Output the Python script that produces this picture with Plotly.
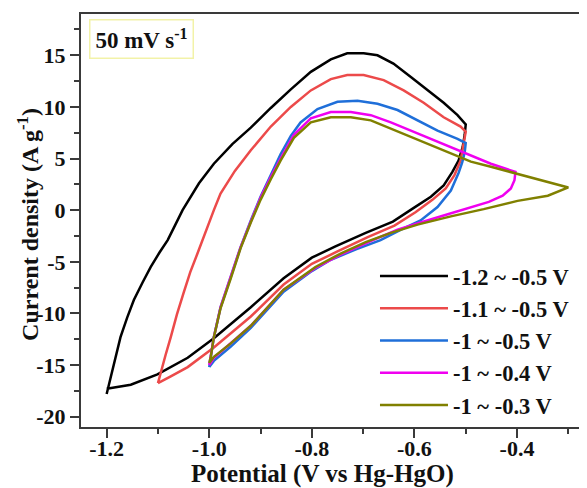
import plotly.graph_objects as go

# ---- data (potential V vs Hg-HgO, current density A/g) ----
series_names = ["-1.2 ~ -0.5 V", "-1.1 ~ -0.5 V", "-1 ~ -0.5 V", "-1 ~ -0.4 V", "-1 ~ -0.3 V"]
series_colors = ["#000000", "#ec4a4a", "#1f6fd9", "#f000f0", "#808000"]

black_v = [-1.200, -1.192, -1.183, -1.173, -1.160, -1.147, -1.130, -1.114, -1.097, -1.081, -1.066, -1.052,
           -1.020, -0.991, -0.955, -0.919, -0.880, -0.841, -0.802, -0.763, -0.731, -0.699, -0.672, -0.641,
           -0.607, -0.574, -0.543, -0.516, -0.500,
           -0.502, -0.506, -0.514, -0.526, -0.543, -0.568, -0.602, -0.642, -0.695, -0.754, -0.800, -0.855,
           -0.919, -0.991, -1.042, -1.101, -1.153, -1.196, -1.200]
black_j = [-17.8, -16.2, -14.1, -12.3, -10.4, -8.7, -7.0, -5.5, -4.1, -2.9, -1.4, 0.0,
           2.6, 4.5, 6.4, 8.0, 9.9, 11.7, 13.4, 14.6, 15.2, 15.2, 15.0, 14.2,
           12.9, 11.6, 10.4, 9.2, 8.3,
           7.3, 6.1, 4.8, 3.7, 2.4, 1.3, 0.2, -1.1, -2.2, -3.5, -4.6, -6.6,
           -9.4, -12.4, -14.3, -15.9, -16.9, -17.2, -17.3]

red_v = [-1.100, -1.095, -1.085, -1.075, -1.063, -1.050, -1.037, -1.023, -1.007, -0.991, -0.978, -0.950,
         -0.919, -0.880, -0.841, -0.802, -0.763, -0.731, -0.699, -0.660, -0.621, -0.582, -0.543, -0.510, -0.500,
         -0.504, -0.510, -0.522, -0.539, -0.565, -0.598, -0.639, -0.691, -0.750, -0.800, -0.855, -0.919,
         -0.991, -1.042, -1.075, -1.100]
red_j = [-16.75, -15.8, -14.0, -12.3, -10.1, -8.0, -6.0, -4.2, -2.0, 0.0, 1.6, 3.8,
         5.8, 8.1, 10.0, 11.6, 12.7, 13.1, 13.1, 12.6, 11.6, 10.4, 9.0, 8.1, 7.6,
         6.3, 4.8, 3.4, 2.1, 1.0, -0.2, -1.5, -2.6, -4.0, -5.2, -7.2, -10.3,
         -13.3, -15.2, -16.1, -16.75]

blue_v = [-1.000, -0.997, -0.991, -0.978, -0.958, -0.939, -0.919, -0.900, -0.880, -0.861, -0.841, -0.822,
          -0.789, -0.750, -0.711, -0.672, -0.633, -0.594, -0.555, -0.516, -0.500,
          -0.502, -0.507, -0.514, -0.529, -0.555, -0.588, -0.627, -0.666, -0.714, -0.763, -0.800, -0.855,
          -0.919, -0.958, -0.991, -1.000]
blue_j = [-15.2, -14.2, -12.3, -9.4, -6.5, -3.6, -1.0, 1.3, 3.4, 5.4, 7.2, 8.5,
          9.8, 10.5, 10.6, 10.3, 9.7, 8.7, 7.7, 6.9, 6.5,
          5.6, 4.6, 3.6, 1.9, 0.3, -1.0, -1.9, -2.9, -3.8, -4.8, -5.9, -7.9,
          -11.4, -13.2, -14.6, -15.2]

magenta_v = [-1.000, -0.997, -0.991, -0.978, -0.958, -0.939, -0.919, -0.900, -0.880, -0.861, -0.835, -0.802,
             -0.763, -0.724, -0.685, -0.646, -0.607, -0.568, -0.529, -0.490, -0.451, -0.403,
             -0.405, -0.412, -0.428, -0.455, -0.490, -0.535, -0.588, -0.633, -0.672, -0.715, -0.744, -0.793,
             -0.855, -0.919, -0.958, -0.991, -1.000]
magenta_j = [-15.0, -14.2, -12.3, -9.4, -6.5, -3.6, -1.1, 1.2, 3.2, 5.0, 7.3, 8.9,
             9.5, 9.5, 9.2, 8.5, 7.7, 6.9, 6.1, 5.3, 4.5, 3.7,
             2.9, 2.1, 1.4, 0.8, 0.3, -0.4, -1.2, -1.9, -2.7, -3.7, -4.3, -5.6,
             -7.7, -11.2, -12.9, -14.3, -15.0]

olive_v = [-1.000, -0.997, -0.991, -0.978, -0.958, -0.939, -0.919, -0.900, -0.880, -0.861, -0.835, -0.802,
           -0.763, -0.724, -0.685, -0.646, -0.607, -0.568, -0.529, -0.490, -0.451, -0.407, -0.354, -0.300,
           -0.340, -0.399, -0.465, -0.529, -0.594, -0.646, -0.695, -0.744, -0.793, -0.855,
           -0.919, -0.958, -0.991, -1.000]
olive_j = [-14.8, -14.2, -12.3, -9.5, -6.6, -3.7, -1.2, 1.0, 3.0, 4.8, 7.0, 8.5,
           9.0, 9.0, 8.7, 7.9, 7.1, 6.3, 5.5, 4.7, 4.2, 3.6, 2.9, 2.2,
           1.4, 0.9, 0.1, -0.6, -1.4, -2.2, -3.1, -4.2, -5.5, -7.7,
           -11.2, -12.9, -14.2, -14.8]

x_tickvals = [-1.2, -1.0, -0.8, -0.6, -0.4]
x_ticktext = ["-1.2", "-1.0", "-0.8", "-0.6", "-0.4"]
y_tickvals = [-20, -15, -10, -5, 0, 5, 10, 15]
y_ticktext = ["-20", "-15", "-10", "-5", "0", "5", "10", "15"]

all_v = [black_v, red_v, blue_v, magenta_v, olive_v]
all_j = [black_j, red_j, blue_j, magenta_j, olive_j]

FONT = "Liberation Serif, Times New Roman, serif"

fig = go.Figure()
for i, (v, j) in enumerate(zip(all_v, all_j)):
    fig.add_trace(go.Scatter(
        x=v, y=j, mode="lines", name=series_names[i],
        line=dict(color=series_colors[i], width=2.5),
    ))

axis_common = dict(
    showgrid=False, zeroline=False, showline=True, linecolor="#3a3a3a", linewidth=2,
    ticks="outside", ticklen=9, tickwidth=2, tickcolor="#3a3a3a",
    tickfont=dict(family=FONT, size=22, color="#111", weight="bold"),
)

fig.update_xaxes(range=[-1.25, -0.2636], tickvals=x_tickvals, ticktext=x_ticktext, mirror=True,
                 ticklabelstandoff=-8,
                 minor=dict(dtick=0.1, tick0=-1.2, ticks="outside", ticklen=5, tickwidth=2, tickcolor="#3a3a3a"),
                 **axis_common)
fig.update_yaxes(range=[-21, 19], tickvals=y_tickvals, ticktext=y_ticktext,
                 minor=dict(dtick=2.5, tick0=0, ticks="outside", ticklen=5, tickwidth=2, tickcolor="#3a3a3a"),
                 **axis_common)

fig.add_annotation(x=-0.105, y=0.4915, xref="paper", yref="paper", textangle=-90, showarrow=False,
                   text="Current density (A g<sup>-1</sup>)", xanchor="center", yanchor="middle",
                   font=dict(family=FONT, size=24, color="#111", weight="bold"))
fig.add_annotation(x=0.478, y=-0.113, xref="paper", yref="paper", showarrow=False,
                   text="Potential (V vs Hg-HgO)", xanchor="center", yanchor="middle",
                   font=dict(family=FONT, size=25, color="#111", weight="bold"))
fig.add_annotation(x=0.016, y=0.988, xref="paper", yref="paper", showarrow=False,
                   text="50 mV s<sup>-1</sup>", xanchor="left", yanchor="top", width=100, height=35,
                   bordercolor="#f2f2a8", borderwidth=1.5, bgcolor="white",
                   font=dict(family=FONT, size=23, color="#111", weight="bold"))

fig.update_layout(
    width=579, height=480,
    margin=dict(l=73, r=0, t=6, b=61),
    paper_bgcolor="white", plot_bgcolor="white",
    showlegend=True,
    legend=dict(x=0.581, y=0.417, xanchor="left", yanchor="top", bgcolor="rgba(0,0,0,0)",
                tracegroupgap=0, itemwidth=68,
                font=dict(family=FONT, size=22.5, color="#111", weight="bold")),
)

fig.write_html("out.html")
